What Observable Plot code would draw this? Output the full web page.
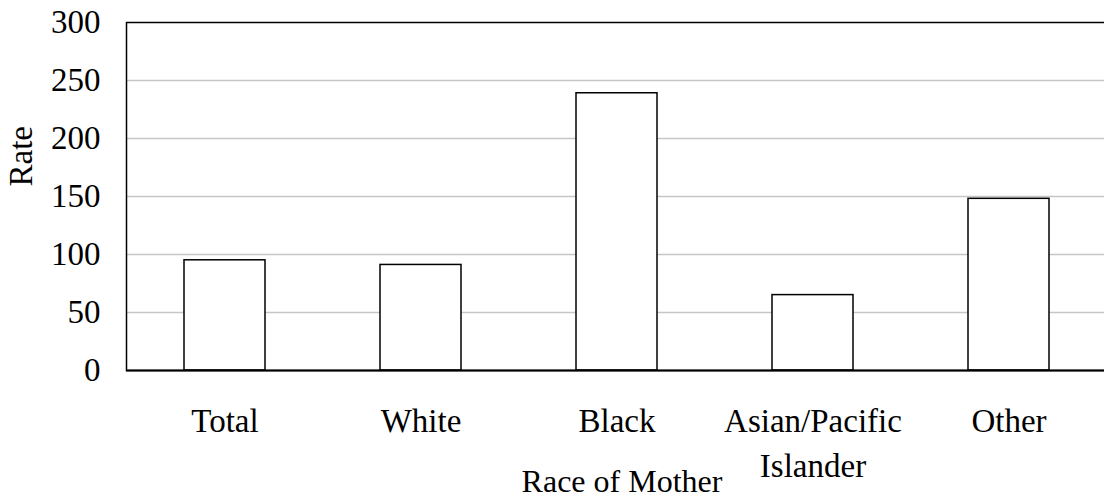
<!DOCTYPE html>
<html>
<head>
<meta charset="utf-8">
<script src="https://cdn.jsdelivr.net/npm/d3@7"></script>
<script src="https://cdn.jsdelivr.net/npm/@observablehq/plot@0.6"></script>
<style>
  html, body { margin: 0; padding: 0; background: white; overflow: hidden; }
  #chart { width: 1104px; height: 504px; overflow: hidden; }
</style>
</head>
<body>
<div id="chart"></div>
<script>
const categories = ["Total", "White", "Black", "Asian/Pacific Islander", "Other"];
const tickLabels = ["Total", "White", "Black", "Asian/Pacific\nIslander", "Other"];
const rates = [95, 91, 239, 65, 148];
const yTicks = [0, 50, 100, 150, 200, 250, 300];
const gridValues = [50, 100, 150, 200, 250];
const xTitle = "Race of Mother";
const yTitle = "Rate";

const data = categories.map((c, i) => ({category: c, rate: rates[i]}));

const chart = Plot.plot({
  width: 1108,
  height: 504,
  marginLeft: 126,
  marginRight: 1,
  marginTop: 22,
  marginBottom: 134,
  style: {
    fontFamily: "'Liberation Serif', 'Times New Roman', serif",
    fontSize: "33px",
    maxWidth: "none",
    background: "white",
    color: "black"
  },
  x: {type: "band", domain: categories, paddingInner: 0.589, paddingOuter: 0.2945, align: 0.5},
  y: {domain: [0, 300]},
  marks: [
    Plot.ruleY(gridValues, {stroke: "#c6c6c6", strokeWidth: 1.5}),
    Plot.barY(data, {x: "category", y: "rate", fill: "white", stroke: "black", strokeWidth: 1.5}),
    Plot.frame({stroke: "black", strokeWidth: 1.5}),
    Plot.ruleY([0], {stroke: "black", strokeWidth: 2}),
    Plot.axisY({ticks: yTicks, tickSize: 0, tickPadding: 26, label: null, fill: "black"}),
    Plot.axisX({tickSize: 0, tickPadding: 30, label: null, lineHeight: 1.36, fill: "black",
      tickFormat: d => tickLabels[categories.indexOf(d)]}),
    Plot.text([yTitle], {frameAnchor: "left", dx: -105, dy: -10, rotate: -90, fill: "black"}),
    Plot.text([xTitle], {frameAnchor: "bottom", dx: 5, dy: 121, fill: "black", fontSize: 32})
  ]
});
document.getElementById("chart").appendChild(chart);
</script>
</body>
</html>
